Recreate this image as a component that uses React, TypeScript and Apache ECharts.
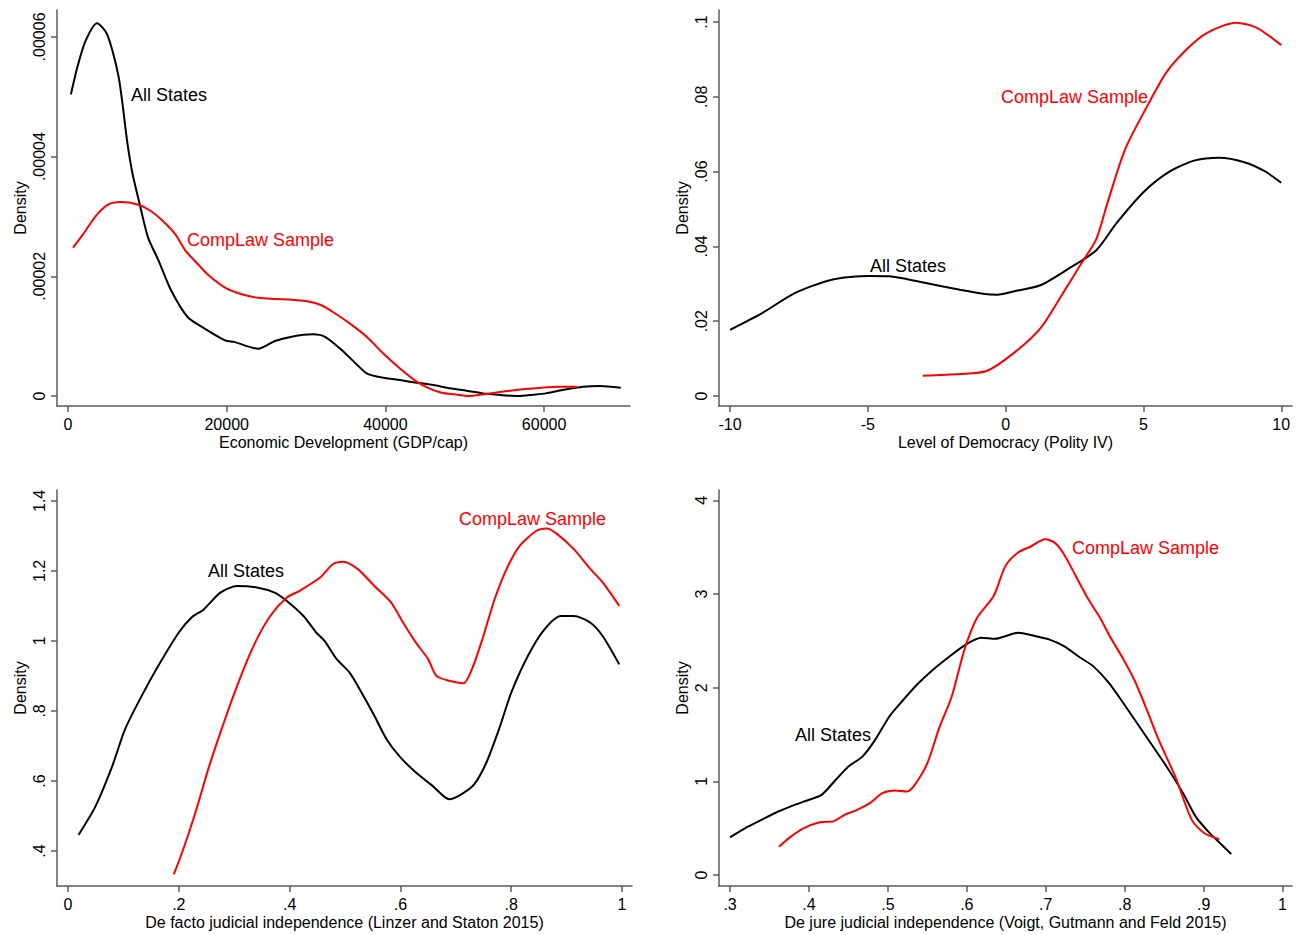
import React, { useEffect, useRef } from "react";
import * as echarts from "echarts";

// ---------- Panel 1: GDP per capita ----------
const gdpAll: [number, number][] = [
  [370, 5.04e-5], [1150, 5.48e-5], [2200, 5.93e-5], [3670, 6.23e-5], [4830, 6.07e-5],
  [5620, 5.76e-5], [6400, 5.32e-5], [6930, 4.82e-5], [7450, 4.26e-5], [8140, 3.71e-5],
  [9030, 3.21e-5], [10080, 2.65e-5], [11390, 2.27e-5], [12970, 1.77e-5], [15070, 1.32e-5],
  [17170, 1.13e-5], [19790, 9.3e-6], [21000, 9.0e-6], [23990, 7.9e-6], [26090, 9.2e-6],
  [28190, 9.9e-6], [30810, 1.03e-5], [32390, 9.9e-6], [34490, 7.7e-6], [36060, 5.7e-6],
  [37640, 3.8e-6], [39740, 3.05e-6], [41840, 2.66e-6], [43940, 2.22e-6], [46040, 1.83e-6],
  [48140, 1.28e-6], [50240, 8.9e-7], [52340, 4.4e-7], [54440, 1.7e-7], [56800, 0],
  [58640, 2.2e-7], [60210, 4.4e-7], [62310, 1.0e-6], [64930, 1.55e-6], [67030, 1.67e-6],
  [69660, 1.39e-6],
];
const gdpComp: [number, number][] = [
  [630, 2.48e-5], [1940, 2.71e-5], [3520, 3.01e-5], [5090, 3.2e-5], [6670, 3.24e-5],
  [8770, 3.2e-5], [10340, 3.1e-5], [11920, 2.93e-5], [13490, 2.71e-5], [14800, 2.43e-5],
  [16120, 2.24e-5], [17690, 2.02e-5], [19790, 1.81e-5], [21890, 1.7e-5], [23990, 1.64e-5],
  [26090, 1.62e-5], [28190, 1.61e-5], [30290, 1.58e-5], [31860, 1.52e-5], [33440, 1.4e-5],
  [35540, 1.21e-5], [37640, 9.9e-6], [39740, 7.1e-6], [41840, 4.6e-6], [43940, 2.4e-6],
  [45510, 1.28e-6], [47090, 5.6e-7], [48660, 2.8e-7], [50500, 0], [52340, 2.8e-7],
  [54440, 6.7e-7], [57060, 1.1e-6], [59680, 1.39e-6], [61780, 1.55e-6], [64140, 1.55e-6],
];
const gdpXTicks = [0, 20000, 40000, 60000];
const gdpYTicks = [0, 0.00002, 0.00004, 0.00006];

// ---------- Panel 2: Polity IV ----------
const polityAll: [number, number][] = [
  [-10, 0.0177], [-8.85, 0.0221], [-7.65, 0.0275], [-6.31, 0.0311], [-4.96, 0.0321],
  [-4.21, 0.032], [-3.16, 0.0306], [-1.66, 0.0284], [-0.76, 0.0273], [-0.31, 0.0271],
  [0.43, 0.0282], [1.26, 0.0296], [2.23, 0.0338], [3.28, 0.0389], [4.03, 0.0463],
  [5.0, 0.0545], [5.97, 0.0601], [6.87, 0.063], [7.76, 0.0637], [8.66, 0.0625],
  [9.4, 0.0601], [10, 0.057],
];
const polityComp: [number, number][] = [
  [-3.01, 0.00545], [-1.66, 0.0059], [-0.69, 0.0067], [0.28, 0.0114], [1.26, 0.0181],
  [2.08, 0.0275], [2.75, 0.0355], [3.28, 0.0418], [3.73, 0.0525], [4.33, 0.0659],
  [5.07, 0.0766], [5.82, 0.0864], [6.57, 0.0927], [7.31, 0.0971], [8.36, 0.0998],
  [9.1, 0.0985], [10, 0.0938],
];
const polityXTicks = [-10, -5, 0, 5, 10];
const polityYTicks = [0, 0.02, 0.04, 0.06, 0.08, 0.1];

// ---------- Panel 3: De facto judicial independence ----------
const defactoAll: [number, number][] = [
  [0.019, 0.446], [0.05, 0.529], [0.08, 0.643], [0.103, 0.748], [0.133, 0.843],
  [0.163, 0.929], [0.2, 1.024], [0.223, 1.067], [0.245, 1.09], [0.275, 1.138],
  [0.305, 1.157], [0.343, 1.152], [0.373, 1.138], [0.395, 1.114], [0.425, 1.071],
  [0.448, 1.024], [0.463, 1.0], [0.485, 0.948], [0.508, 0.91], [0.53, 0.852],
  [0.553, 0.786], [0.575, 0.719], [0.598, 0.671], [0.628, 0.624], [0.658, 0.586],
  [0.688, 0.548], [0.71, 0.562], [0.733, 0.59], [0.755, 0.652], [0.778, 0.748],
  [0.8, 0.852], [0.83, 0.957], [0.86, 1.033], [0.89, 1.071], [0.913, 1.071],
  [0.943, 1.052], [0.965, 1.014], [0.995, 0.933],
];
const defactoComp: [number, number][] = [
  [0.191, 0.333], [0.208, 0.405], [0.23, 0.51], [0.253, 0.633], [0.275, 0.738],
  [0.305, 0.871], [0.335, 0.986], [0.365, 1.071], [0.395, 1.124], [0.418, 1.143],
  [0.455, 1.181], [0.478, 1.219], [0.497, 1.226], [0.523, 1.205], [0.553, 1.157],
  [0.583, 1.11], [0.605, 1.052], [0.628, 0.995], [0.65, 0.948], [0.665, 0.9],
  [0.688, 0.886], [0.714, 0.879], [0.729, 0.919], [0.748, 1.005], [0.77, 1.119],
  [0.793, 1.21], [0.815, 1.271], [0.845, 1.314], [0.864, 1.321], [0.883, 1.305],
  [0.913, 1.262], [0.943, 1.205], [0.965, 1.167], [0.995, 1.1],
];
const defactoXTicks = [0, 0.2, 0.4, 0.6, 0.8, 1];
const defactoYTicks = [0.4, 0.6, 0.8, 1, 1.2, 1.4];

// ---------- Panel 4: De jure judicial independence ----------
const dejureAll: [number, number][] = [
  [0.3, 0.403], [0.319, 0.499], [0.34, 0.589], [0.361, 0.678], [0.382, 0.749],
  [0.4, 0.803], [0.416, 0.856], [0.434, 1.017], [0.45, 1.159], [0.468, 1.267],
  [0.484, 1.445], [0.502, 1.695], [0.518, 1.855], [0.537, 2.034], [0.555, 2.176],
  [0.576, 2.319], [0.599, 2.462], [0.618, 2.533], [0.636, 2.522], [0.665, 2.587],
  [0.686, 2.551], [0.704, 2.515], [0.723, 2.444], [0.744, 2.319], [0.76, 2.23],
  [0.78, 2.051], [0.801, 1.802], [0.827, 1.481], [0.853, 1.159], [0.874, 0.874],
  [0.89, 0.624], [0.906, 0.464], [0.921, 0.339], [0.935, 0.225],
];
const dejureComp: [number, number][] = [
  [0.362, 0.303], [0.377, 0.41], [0.393, 0.499], [0.414, 0.564], [0.43, 0.571],
  [0.445, 0.642], [0.461, 0.696], [0.477, 0.767], [0.493, 0.874], [0.509, 0.903],
  [0.524, 0.892], [0.534, 0.963], [0.55, 1.195], [0.565, 1.57], [0.581, 1.909],
  [0.597, 2.408], [0.613, 2.747], [0.634, 2.979], [0.649, 3.3], [0.665, 3.443],
  [0.681, 3.507], [0.699, 3.585], [0.712, 3.543], [0.723, 3.425], [0.738, 3.193],
  [0.754, 2.943], [0.77, 2.729], [0.781, 2.551], [0.796, 2.337], [0.812, 2.087],
  [0.828, 1.766], [0.843, 1.445], [0.864, 1.052], [0.885, 0.589], [0.901, 0.446],
  [0.92, 0.382],
];
const dejureXTicks = [0.3, 0.4, 0.5, 0.6, 0.7, 0.8, 0.9, 1];
const dejureYTicks = [0, 1, 2, 3, 4];

const xTitles = [
  "Economic Development (GDP/cap)",
  "Level of Democracy (Polity IV)",
  "De facto judicial independence (Linzer and Staton 2015)",
  "De jure judicial independence (Voigt, Gutmann and Feld 2015)",
];
const yTitle = "Density";
const seriesNames = ["All States", "CompLaw Sample"];

const FONT = "'Liberation Sans', Arial, Helvetica, sans-serif";
const AXIS_COLOR = "#5c5c5c";

const fmt = (v: number) => {
  const s = String(v);
  return s.replace(/^0\./, ".").replace(/^-0\./, "-.");
};

export default function App() {
  const ref = useRef<HTMLDivElement>(null);
  useEffect(() => {
    if (!ref.current) return;
    const chart = echarts.init(ref.current, undefined, { renderer: "svg" });

    const grids = [
      { left: 57, top: 10, width: 573, height: 396 },
      { left: 719, top: 10, width: 573, height: 396 },
      { left: 57, top: 490, width: 575, height: 396 },
      { left: 719, top: 490, width: 573, height: 396 },
    ];
    const xRanges = [
      [-1386, 70825],
      [-10.4, 10.39],
      [-0.0199, 1.018],
      [0.286, 1.012],
    ];
    const yRanges = [
      [-1.67e-6, 6.45e-5],
      [-0.00267, 0.1032],
      [0.3, 1.431],
      [-0.117, 4.11],
    ];
    const xTicks = [gdpXTicks, polityXTicks, defactoXTicks, dejureXTicks];
    const yTicks = [gdpYTicks, polityYTicks, defactoYTicks, dejureYTicks];
    const allData = [gdpAll, polityAll, defactoAll, dejureAll];
    const compData = [gdpComp, polityComp, defactoComp, dejureComp];

    const axisLine = { show: true, onZero: false, lineStyle: { color: AXIS_COLOR, width: 1.5 } };

    const xAxis = grids.map((_, i) => ({
      type: "value",
      gridIndex: i,
      min: xRanges[i][0],
      max: xRanges[i][1],
      axisLine,
      axisTick: {
        show: true,
        length: 6,
        customValues: xTicks[i],
        lineStyle: { color: AXIS_COLOR, width: 1.5 },
      },
      axisLabel: {
        customValues: xTicks[i],
        formatter: (v: number) => fmt(v),
        color: "#000",
        fontSize: 16,
        fontFamily: FONT,
        margin: 10,
        showMinLabel: true,
        showMaxLabel: true,
      },
      splitLine: { show: false },
      name: xTitles[i],
      nameLocation: "middle",
      nameGap: 28,
      nameTextStyle: { color: "#000", fontSize: 16, fontFamily: FONT },
    }));

    const yAxis = grids.map((_, i) => ({
      type: "value",
      gridIndex: i,
      min: yRanges[i][0],
      max: yRanges[i][1],
      axisLine,
      axisTick: {
        show: true,
        length: 6,
        customValues: yTicks[i],
        lineStyle: { color: AXIS_COLOR, width: 1.5 },
      },
      axisLabel: {
        customValues: yTicks[i],
        formatter: (v: number) => fmt(v),
        rotate: 90,
        color: "#000",
        fontSize: 16,
        fontFamily: FONT,
        margin: 10,
        showMinLabel: true,
        showMaxLabel: true,
      },
      splitLine: { show: false },
      name: yTitle,
      nameLocation: "middle",
      nameGap: 29,
      nameRotate: 90,
      nameTextStyle: { color: "#000", fontSize: 16, fontFamily: FONT },
    }));

    const series: any[] = [];
    grids.forEach((_, i) => {
      series.push({
        type: "line",
        name: seriesNames[0],
        xAxisIndex: i,
        yAxisIndex: i,
        data: allData[i],
        showSymbol: false,
        smooth: 0.25,
        lineStyle: { color: "#000000", width: 2 },
      });
      series.push({
        type: "line",
        name: seriesNames[1],
        xAxisIndex: i,
        yAxisIndex: i,
        data: compData[i],
        showSymbol: false,
        smooth: 0.25,
        lineStyle: { color: "#ff0000", width: 2 },
      });
    });

    const labelPos = [
      [[131, 96], [187, 241]],
      [[870, 267], [1001, 98]],
      [[208, 572], [459, 520]],
      [[795, 736], [1072, 549]],
    ];
    const graphic: any[] = [];
    labelPos.forEach((p) => {
      graphic.push({
        type: "text",
        left: p[0][0],
        top: p[0][1] - 10,
        style: { text: seriesNames[0], fill: "#000", fontSize: 18, fontFamily: FONT },
      });
      graphic.push({
        type: "text",
        left: p[1][0],
        top: p[1][1] - 10,
        style: { text: seriesNames[1], fill: "#ff0000", fontSize: 18, fontFamily: FONT },
      });
    });

    chart.setOption({
      animation: false,
      backgroundColor: "#ffffff",
      grid: grids,
      xAxis,
      yAxis,
      series,
      graphic,
    } as any);

    return () => chart.dispose();
  }, []);

  return (
    <div
      ref={ref}
      style={{ position: "fixed", left: 0, top: 0, width: 1297, height: 935 }}
    />
  );
}
